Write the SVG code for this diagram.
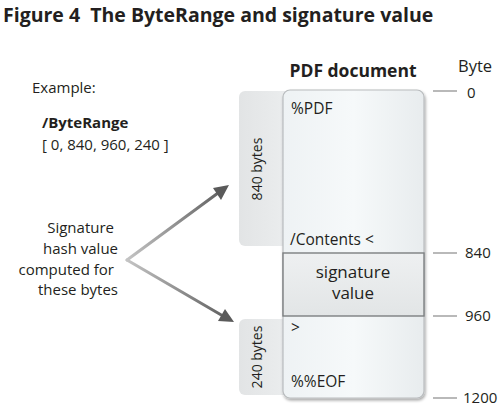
<svg xmlns="http://www.w3.org/2000/svg" width="500" height="413" viewBox="0 0 500 413">
<defs>
<style>
text{font-family:"Open Sans","Liberation Sans",sans-serif;fill:#231f20}
.t{font-size:15px}
.b{font-weight:bold}
.m{font-size:15.5px}
.tick{stroke:#8a8a8a;stroke-width:1.2}
.arr{fill:none;stroke-width:3;stroke-linecap:round}
</style>
<linearGradient id="boxg" x1="0" y1="0" x2="1" y2="0">
<stop offset="0" stop-color="#eef2f4"/><stop offset="0.5" stop-color="#f6f9fa"/><stop offset="1" stop-color="#e8ecee"/>
</linearGradient>
<linearGradient id="tabg" x1="0" y1="0" x2="1" y2="0">
<stop offset="0" stop-color="#e2e4e5"/><stop offset="1" stop-color="#eceeef"/>
</linearGradient>
<linearGradient id="sigg" x1="0" y1="0" x2="0" y2="1">
<stop offset="0" stop-color="#eef0f1"/><stop offset="1" stop-color="#e2e5e6"/>
</linearGradient>
<linearGradient id="aup" gradientUnits="userSpaceOnUse" x1="127" y1="260" x2="228" y2="186">
<stop offset="0" stop-color="#c4c4c4"/><stop offset="1" stop-color="#5a5a5a"/>
</linearGradient>
<linearGradient id="adn" gradientUnits="userSpaceOnUse" x1="127" y1="260" x2="233" y2="322">
<stop offset="0" stop-color="#c4c4c4"/><stop offset="1" stop-color="#5a5a5a"/>
</linearGradient>
<filter id="sh" x="-10%" y="-10%" width="120%" height="120%">
<feGaussianBlur in="SourceAlpha" stdDeviation="1.5"/>
<feOffset dx="1" dy="1.5"/>
<feComponentTransfer><feFuncA type="linear" slope="0.35"/></feComponentTransfer>
<feMerge><feMergeNode/><feMergeNode in="SourceGraphic"/></feMerge>
</filter>
</defs>
<rect width="500" height="413" fill="#ffffff"/>
<text x="3" y="22" class="b" style="font-size:19.5px" xml:space="preserve">Figure 4  The ByteRange and signature value</text>

<g id="left-labels">
<text x="32" y="93" class="t">Example:</text>
<text x="42" y="128" class="t b">/ByteRange</text>
<text x="42" y="150" class="t">[ 0, 840, 960, 240 ]</text>
</g>
<g id="hash-label">
<text class="t" text-anchor="end"><tspan x="114" y="233">Signature</tspan><tspan x="118" y="254">hash value</tspan><tspan x="114" y="275">computed for</tspan><tspan x="118" y="295">these bytes</tspan></text>
</g>

<g id="tab-840">
<rect x="239" y="91" width="52" height="155" rx="6" fill="url(#tabg)"/>
<text transform="translate(262,169) rotate(-90)" class="t" text-anchor="middle" style="font-size:14px">840 bytes</text>
</g>
<g id="tab-240">
<rect x="239" y="319" width="52" height="76" rx="6" fill="url(#tabg)"/>
<text transform="translate(262,357) rotate(-90)" class="t" text-anchor="middle" style="font-size:14px">240 bytes</text>
</g>

<g id="pdf-document">
<text x="353" y="77" class="b" text-anchor="middle" style="font-size:17.5px">PDF document</text>
<rect x="283" y="90" width="141" height="308" rx="7" fill="url(#boxg)" stroke="#b9bcbe" stroke-width="1.2" filter="url(#sh)"/>
<text x="291" y="114" class="m">%PDF</text>
<text x="290" y="245" class="m">/Contents &lt;</text>
</g>
<g id="signature-value">
<rect x="283" y="253" width="141" height="63" fill="url(#sigg)" stroke="#7c7f80" stroke-width="1.4"/>
<text x="353" y="278" text-anchor="middle" style="font-size:17px">signature</text>
<text x="353" y="299" text-anchor="middle" style="font-size:17px">value</text>
</g>
<g id="tail">
<text x="291" y="333" class="m">&gt;</text>
<text x="291" y="387" class="m">%%EOF</text>
</g>

<g id="byte-scale">
<text x="458" y="72" style="font-size:16.5px">Byte</text>
<line class="tick" x1="433" y1="91" x2="457" y2="91"/>
<text x="467" y="98" class="t">0</text>
<line class="tick" x1="433" y1="253" x2="457" y2="253"/>
<text x="465" y="258" class="t">840</text>
<line class="tick" x1="433" y1="316" x2="457" y2="316"/>
<text x="465" y="321" class="t">960</text>
<line class="tick" x1="433" y1="398" x2="457" y2="398"/>
<text x="463" y="403" class="t">1200</text>
</g>

<g id="connectors">
<path class="arr" d="M218,193 L127,260" stroke="url(#aup)"/>
<path class="arr" d="M127,260 L223,316" stroke="url(#adn)"/>
<polygon points="229,185 213,188 221,200" fill="#5a5a5a"/>
<polygon points="234,322 218,321 225,309" fill="#5a5a5a"/>
</g>
</svg>
